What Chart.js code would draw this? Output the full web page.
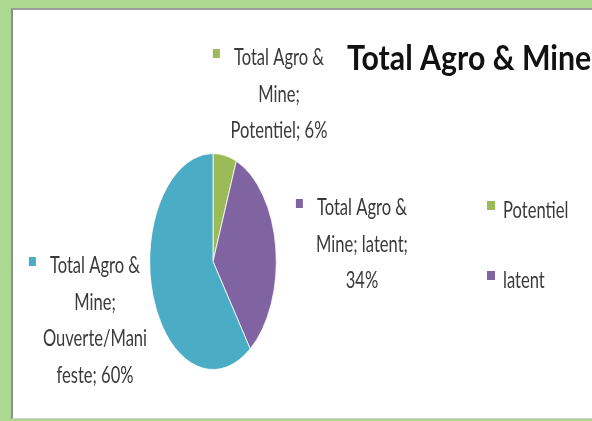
<!DOCTYPE html>
<html>
<head>
<meta charset="utf-8">
<title>Total Agro & Mine</title>
<script src="https://cdn.jsdelivr.net/npm/chart.js@4.4.0/dist/chart.umd.min.js"></script>
<style>
    html, body { margin: 0; padding: 0; }
    body {
        width: 592px;
        height: 421px;
        overflow: hidden;
        position: relative;
        background: #add88f;
    }
    .frame {
        position: absolute;
        left: 11px;
        top: 8px;
        width: 600px;
        height: 408px;
        background: #fff;
        border-left: 2px solid #8e8e8e;
        border-top: 2px solid #9c9c9c;
        border-bottom: 1px solid #cfcfcf;
    }
    #pieChart { position: absolute; left: 0; top: 0; }
</style>
</head>
<body>
<div class="frame"></div>
<canvas id="pieChart" width="592" height="421"></canvas>
<script>
// ===================================
// Data
// ===================================
const seriesName = 'Total Agro & Mine';
const categories = ['Potentiel', 'latent', 'Ouverte/Manifeste'];
const shares = [6, 34, 60];
const sliceColors = ['#9bbb59', '#8064a2', '#4bacc6'];

// data labels, wrapped the way the original chart wrapped them
const labelLines = [
    ['Total Agro &', 'Mine;', 'Potentiel; ' + shares[0] + '%'],
    ['Total Agro &', 'Mine; latent;', shares[1] + '%'],
    ['Total Agro &', 'Mine;', 'Ouverte/Mani', 'feste; ' + shares[2] + '%']
];
// only the first two legend entries are visible in the picture
const legendCategories = categories.slice(0, 2);

// ===================================
// Layout (picture coordinates)
// ===================================
const PIE_SCALE_X = 0.586;          // the pie is drawn as a tall ellipse
const LABEL_FONT = '23px Lato';
const LABEL_SX = 0.72;
const LINE_GAP = 36.5;
const TEXT_COLOR = '#3a3a3a';
const labelPos = [
    { x: 279, y: 65 },
    { x: 362, y: 215 },
    { x: 95, y: 273 }
];

function scaledText(ctx, text, x, y, sx, align) {
    ctx.save();
    ctx.translate(x, y);
    ctx.scale(sx, 1);
    ctx.textAlign = align;
    ctx.fillText(text, 0, 0);
    ctx.restore();
}

// squeeze the pie horizontally around its centre
const ellipsePlugin = {
    id: 'ellipse',
    beforeDatasetsDraw(chart) {
        const arc = chart.getDatasetMeta(0).data[0];
        const ctx = chart.ctx;
        ctx.save();
        ctx.translate(arc.x, arc.y);
        ctx.scale(PIE_SCALE_X, 1);
        ctx.translate(-arc.x, -arc.y);
    },
    afterDatasetsDraw(chart) {
        chart.ctx.restore();
    }
};

// title, data labels and legend
const textPlugin = {
    id: 'excelText',
    afterDraw(chart) {
        const ctx = chart.ctx;
        ctx.save();
        ctx.textBaseline = 'alphabetic';

        // title
        ctx.fillStyle = '#111';
        ctx.font = 'bold 34px Lato';
        scaledText(ctx, seriesName, 347, 70, 0.89, 'left');

        // data labels
        ctx.font = LABEL_FONT;
        labelLines.forEach((lines, i) => {
            const p = labelPos[i];
            lines.forEach((line, j) => {
                ctx.fillStyle = TEXT_COLOR;
                scaledText(ctx, line, p.x, p.y + j * LINE_GAP, LABEL_SX, 'center');
            });
            // colour key in front of the first line
            const w = ctx.measureText(lines[0]).width * LABEL_SX;
            ctx.fillStyle = sliceColors[i];
            ctx.fillRect(p.x - w / 2 - 21, p.y - 16, 7, 9);
        });

        // legend
        legendCategories.forEach((cat, i) => {
            const y = 218 + i * 70;
            ctx.fillStyle = sliceColors[i];
            ctx.fillRect(487, y - 17, 8, 9);
            ctx.fillStyle = TEXT_COLOR;
            scaledText(ctx, cat, 503, y, LABEL_SX, 'left');
        });
        ctx.restore();
    }
};

const chart = new Chart(document.getElementById('pieChart'), {
    type: 'pie',
    data: {
        labels: categories,
        datasets: [{
            label: seriesName,
            data: shares,
            backgroundColor: sliceColors,
            borderColor: '#ffffff',
            borderWidth: 1
        }]
    },
    options: {
        responsive: false,
        animation: false,
        layout: {
            padding: { left: 63, right: 229, top: 153, bottom: 51 }
        },
        plugins: {
            legend: { display: false },
            title: { display: false },
            tooltip: { enabled: false }
        }
    },
    plugins: [ellipsePlugin, textPlugin]
});
</script>
</body>
</html>
